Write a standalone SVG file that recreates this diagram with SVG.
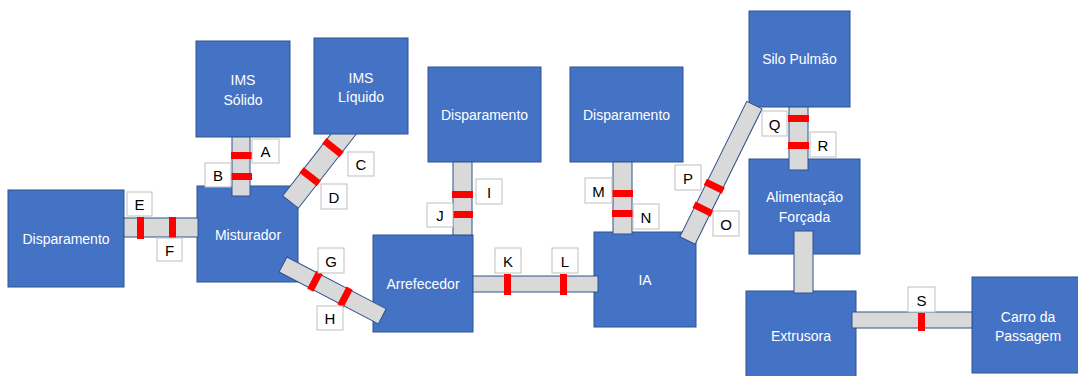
<svg xmlns="http://www.w3.org/2000/svg" width="1078" height="376" viewBox="0 0 1078 376">
  <style>
    .box { fill: #4472C4; stroke: #2F528F; stroke-width: 1; }
    .name { fill: #FFFFFF; font-family: "Liberation Sans", Arial, sans-serif; font-size: 14px; text-anchor: middle; dominant-baseline: central; }
    .pipe { fill: #D9D9D9; stroke: #2F528F; stroke-width: 1; }
    .valve { fill: #FF0000; }
    .tag { fill: #FFFFFF; stroke: #BFBFBF; stroke-width: 1; }
    .tagtext { fill: #000000; font-family: "Liberation Sans", Arial, sans-serif; font-size: 15px; text-anchor: middle; dominant-baseline: central; }
  </style>
  <rect width="1078" height="376" fill="#FFFFFF"/>

  <!-- process units -->
  <g id="disparamento-1">
    <rect class="box" x="8" y="190" width="116" height="97"/>
    <text class="name" x="66" y="239">Disparamento</text>
  </g>
  <g id="ims-solido">
    <rect class="box" x="196" y="41" width="94" height="96"/>
    <text class="name" x="243" y="80">IMS</text>
    <text class="name" x="243" y="100">Sólido</text>
  </g>
  <g id="misturador">
    <rect class="box" x="197" y="186" width="101" height="96"/>
    <text class="name" x="248" y="235">Misturador</text>
  </g>
  <g id="arrefecedor">
    <rect class="box" x="373" y="235" width="100" height="97"/>
    <text class="name" x="423" y="284">Arrefecedor</text>
  </g>
  <g id="disparamento-2">
    <rect class="box" x="428" y="67" width="113" height="95"/>
    <text class="name" x="484.5" y="115">Disparamento</text>
  </g>
  <g id="disparamento-3">
    <rect class="box" x="570" y="67" width="113" height="95"/>
    <text class="name" x="626.5" y="115">Disparamento</text>
  </g>
  <g id="ia">
    <rect class="box" x="594" y="232" width="102" height="95"/>
    <text class="name" x="645" y="280">IA</text>
  </g>
  <g id="silo-pulmao">
    <rect class="box" x="749" y="11" width="101" height="96"/>
    <text class="name" x="799.5" y="59">Silo Pulmão</text>
  </g>
  <g id="alimentacao-forcada">
    <rect class="box" x="749" y="159" width="111" height="95"/>
    <text class="name" x="804.5" y="197">Alimentação</text>
    <text class="name" x="804.5" y="217">Forçada</text>
  </g>
  <g id="extrusora">
    <rect class="box" x="746" y="291" width="110" height="92"/>
    <text class="name" x="801" y="336">Extrusora</text>
  </g>
  <g id="carro-da-passagem">
    <rect class="box" x="972" y="277" width="112" height="96"/>
    <text class="name" x="1028" y="317">Carro da</text>
    <text class="name" x="1028" y="336">Passagem</text>
  </g>

  <!-- pipes with valves and their tags -->
  <g id="connectors">
    <!-- E / F -->
    <rect class="pipe" x="124" y="218" width="74" height="19"/>
    <rect class="valve" x="137" y="217" width="7" height="22"/>
    <rect class="valve" x="169" y="217" width="7" height="22"/>

    <!-- A / B -->
    <rect class="pipe" x="232" y="137" width="18" height="59"/>
    <rect class="valve" x="231" y="152" width="21" height="7"/>
    <rect class="valve" x="231" y="173" width="21" height="7"/>

    <!-- C / D -->
    <g transform="translate(290.5,202) rotate(-52)">
      <rect class="pipe" x="0" y="-10" width="100" height="20"/>
      <rect class="valve" x="28.5" y="-11" width="7" height="22"/>
      <rect class="valve" x="65.5" y="-11" width="7" height="22"/>
    </g>

    <!-- G / H -->
    <g transform="translate(283,264.5) rotate(27.6)">
      <rect class="pipe" x="0" y="-8.5" width="112" height="17"/>
      <rect class="valve" x="32.5" y="-10" width="7" height="20"/>
      <rect class="valve" x="66.5" y="-10" width="7" height="20"/>
    </g>

    <!-- I / J -->
    <rect class="pipe" x="453" y="162" width="19" height="73"/>
    <rect class="valve" x="452" y="191" width="21" height="7"/>
    <rect class="valve" x="452" y="211" width="21" height="7"/>

    <!-- K / L -->
    <rect class="pipe" x="473" y="276" width="125" height="16"/>
    <rect class="valve" x="504" y="274" width="7" height="21"/>
    <rect class="valve" x="560" y="274" width="7" height="21"/>

    <!-- M / N -->
    <rect class="pipe" x="613" y="162" width="19" height="72"/>
    <rect class="valve" x="612" y="190" width="21" height="7"/>
    <rect class="valve" x="612" y="210" width="21" height="7"/>

    <!-- O / P -->
    <g transform="translate(687.5,240.5) rotate(-63.7)">
      <rect class="pipe" x="0" y="-8.5" width="151" height="17"/>
      <rect class="valve" x="31.5" y="-10" width="7" height="20"/>
      <rect class="valve" x="57" y="-10" width="7" height="20"/>
    </g>

    <!-- Q / R -->
    <rect class="pipe" x="789" y="107" width="19" height="63"/>
    <rect class="valve" x="788" y="115" width="21" height="7"/>
    <rect class="valve" x="788" y="142" width="21" height="7"/>

    <!-- Alimentação Forçada to Extrusora -->
    <rect class="pipe" x="794" y="231" width="19" height="62"/>

    <!-- S -->
    <rect class="pipe" x="852" y="312" width="120" height="16"/>
    <rect class="valve" x="918" y="313" width="7" height="18"/>

    <!-- tags -->
    <rect class="tag" x="252" y="139" width="27" height="24"/><text class="tagtext" x="265.5" y="151.5">A</text>
    <rect class="tag" x="205" y="163" width="26" height="24"/><text class="tagtext" x="218" y="175.5">B</text>
    <rect class="tag" x="348" y="152" width="26" height="24"/><text class="tagtext" x="361" y="164.5">C</text>
    <rect class="tag" x="321" y="184" width="26" height="25"/><text class="tagtext" x="334" y="197">D</text>
    <rect class="tag" x="127" y="192" width="25" height="24"/><text class="tagtext" x="139.5" y="204.5">E</text>
    <rect class="tag" x="157" y="238" width="25" height="23"/><text class="tagtext" x="169.5" y="250">F</text>
    <rect class="tag" x="318" y="248" width="26" height="25"/><text class="tagtext" x="331" y="261">G</text>
    <rect class="tag" x="317" y="306" width="26" height="24"/><text class="tagtext" x="330" y="318.5">H</text>
    <rect class="tag" x="476" y="179" width="26" height="25"/><text class="tagtext" x="489" y="192">I</text>
    <rect class="tag" x="427" y="203" width="26" height="24"/><text class="tagtext" x="440" y="215.5">J</text>
    <rect class="tag" x="495" y="248" width="26" height="25"/><text class="tagtext" x="508" y="261">K</text>
    <rect class="tag" x="552" y="248" width="26" height="25"/><text class="tagtext" x="565" y="261">L</text>
    <rect class="tag" x="585" y="178" width="27" height="25"/><text class="tagtext" x="598.5" y="191">M</text>
    <rect class="tag" x="633" y="204" width="26" height="25"/><text class="tagtext" x="646" y="217">N</text>
    <rect class="tag" x="713" y="211" width="26" height="25"/><text class="tagtext" x="726" y="224">O</text>
    <rect class="tag" x="675" y="165" width="26" height="25"/><text class="tagtext" x="688" y="178">P</text>
    <rect class="tag" x="762" y="111" width="25" height="25"/><text class="tagtext" x="774.5" y="124">Q</text>
    <rect class="tag" x="810" y="132" width="26" height="25"/><text class="tagtext" x="823" y="145">R</text>
    <rect class="tag" x="908" y="287" width="27" height="25"/><text class="tagtext" x="921.5" y="300">S</text>
  </g>

  <!-- drawn last so the C/D pipe runs in beneath it -->
  <g id="ims-liquido">
    <rect class="box" x="314" y="38" width="94" height="96"/>
    <text class="name" x="361" y="78">IMS</text>
    <text class="name" x="361" y="97">Líquido</text>
  </g>
</svg>
